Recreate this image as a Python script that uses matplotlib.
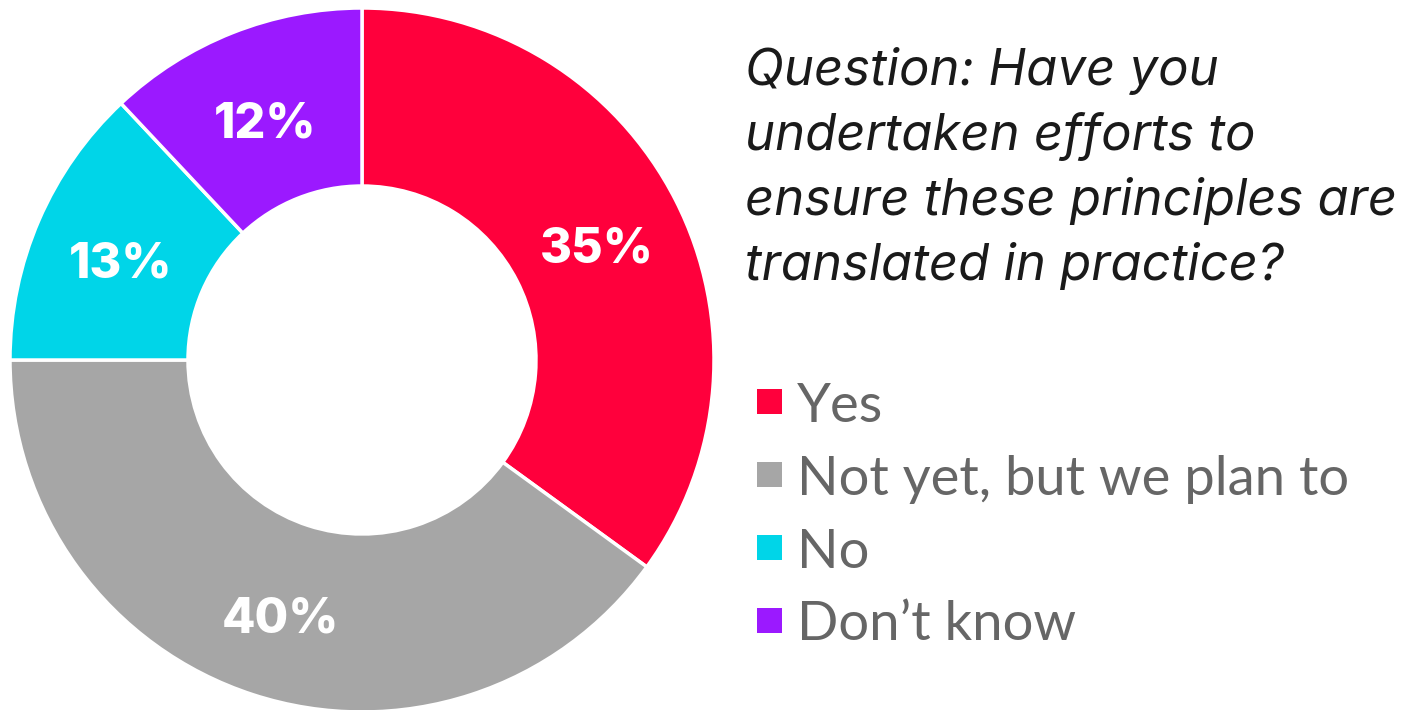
import matplotlib.pyplot as plt
from matplotlib.patches import Rectangle

# survey answers, clockwise from 12 o'clock
answers = ["Yes", "Not yet, but we plan to", "No", "Don\u2019t know"]
shares = [35, 40, 13, 12]
colors = ["#FF003C", "#A6A6A6", "#00D5E8", "#9B19FF"]

question_lines = [
    "Question: Have you",
    "undertaken efforts to",
    "ensure these principles are",
    "translated in practice?",
]

W, H = 1402, 710
fig = plt.figure(figsize=(W / 100, H / 100), dpi=100)
fig.patch.set_facecolor("white")


def fx(px):
    return px / W


def fy(py):
    return 1 - py / H


# donut: centre (362, 360) px, outer radius 352 px, inner radius 174 px
r_out, r_in = 352, 174
ax = fig.add_axes([fx(362 - r_out), fy(360 + r_out), 2 * r_out / W, 2 * r_out / H])
wedges, _, pct_texts = ax.pie(
    shares,
    colors=colors,
    startangle=90,
    counterclock=False,
    radius=1,
    autopct=lambda p: f"{p:.0f}%",
    pctdistance=(1 + r_in / r_out) / 2,
    wedgeprops=dict(width=1 - r_in / r_out, edgecolor="white", linewidth=2.5),
)
for t in pct_texts:
    x, y = t.get_position()
    t.set_position((x, y - 0.012))
    t.set_color("white")
    t.set_fontsize(35)
    t.set_fontweight("heavy")
    t.set_family("Inter")
    t.set_va("center_baseline")
ax.set_xlim(-1, 1)
ax.set_ylim(-1, 1)
ax.set_aspect("equal")
ax.axis("off")

# question text on the right
for i, line in enumerate(question_lines):
    fig.text(fx(745), fy(85 + 65 * i), line, fontsize=36.6, style="italic",
             family="Inter", color="#1A1A1A", va="baseline", ha="left")

# legend: coloured squares with grey labels
for i, (label, c) in enumerate(zip(answers, colors)):
    yc = 401.5 + 73 * i
    fig.patches.append(Rectangle((fx(757), fy(yc + 12.5)), 25 / W, 25 / H,
                                 transform=fig.transFigure, facecolor=c,
                                 edgecolor="none"))
    fig.text(fx(797), fy(yc + 20), label, fontsize=39.2, family="Lato",
             color="#666666", va="baseline", ha="left")

fig.savefig("out.png", dpi=100, facecolor="white")
